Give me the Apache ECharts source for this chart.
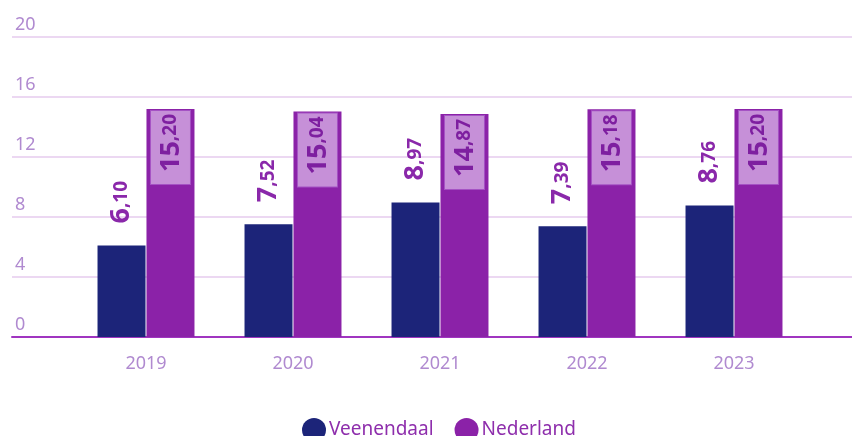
<!DOCTYPE html>
<html>
<head>
<meta charset="utf-8">
<script src="https://cdn.jsdelivr.net/npm/echarts@6/dist/echarts.min.js"></script>
<style>html,body{margin:0;padding:0;background:#fff}#c{width:852px;height:436px}</style>
</head>
<body>
<div id="c"></div>
<script>
const categories = ['2019', '2020', '2021', '2022', '2023'];
const veenendaal = [6.10, 7.52, 8.97, 7.39, 8.76];
const nederland = [15.20, 15.04, 14.87, 15.18, 15.20];
const yTicks = { min: 0, max: 20, interval: 4 };

const FONT = '"Noto Sans", "Open Sans", sans-serif';
const labelColor = '#b08ad0';
const valColor = '#8a28aa';

function splitFmt(p) {
  const parts = p.value.toFixed(2).split('.');
  return '{a|' + parts[0] + '}{b|,' + parts[1] + '}';
}

const chart = echarts.init(document.getElementById('c'), null, { renderer: 'canvas' });
chart.setOption({
  animation: false,
  textStyle: { fontFamily: FONT },
  grid: [
    { left: 12, right: 0, top: 37, bottom: 99 },
    { left: 72.5, right: 44.5, top: 37, bottom: 99 }
  ],
  xAxis: [
    {
      gridIndex: 0, type: 'value', min: 0, max: 1,
      axisLine: { show: true, onZero: false, lineStyle: { color: '#a035c0', width: 2 } },
      axisTick: { show: false }, axisLabel: { show: false }, splitLine: { show: false }
    },
    {
      gridIndex: 1, type: 'category', data: categories,
      axisLine: { show: false }, axisTick: { show: false },
      axisLabel: { fontSize: 18, color: labelColor, margin: 18, fontFamily: FONT }
    }
  ],
  yAxis: [
    {
      gridIndex: 0, type: 'value', min: yTicks.min, max: yTicks.max, interval: yTicks.interval,
      axisLine: { show: false }, axisTick: { show: false },
      axisLabel: {
        inside: true, margin: 3, align: 'left', verticalAlign: 'bottom',
        padding: [0, 0, 3, 0], fontSize: 18, color: labelColor, fontFamily: FONT
      },
      splitLine: { show: true, lineStyle: { color: '#ecd8f2', width: 2 } }
    },
    {
      gridIndex: 1, type: 'value', min: yTicks.min, max: yTicks.max, interval: yTicks.interval,
      show: false
    }
  ],
  legend: {
    left: 297, top: 413,
    icon: 'circle', itemWidth: 24, itemHeight: 24, itemGap: 21,
    textStyle: { fontSize: 19, color: '#8e2eac', fontFamily: FONT, padding: [0, 0, 0, -2] },
    data: ['Veenendaal', 'Nederland']
  },
  series: [
    {
      name: 'Veenendaal', type: 'bar', xAxisIndex: 1, yAxisIndex: 1,
      data: veenendaal, barWidth: 48, barGap: '2%',
      itemStyle: { color: '#1c2479' },
      label: {
        show: true, position: 'top', distance: 22, rotate: 90,
        align: 'left', verticalAlign: 'middle',
        formatter: splitFmt,
        rich: {
          a: { fontSize: 27, fontWeight: 'bold', color: valColor, fontFamily: FONT },
          b: { fontSize: 19, fontWeight: 'bold', color: valColor, fontFamily: FONT }
        }
      }
    },
    {
      name: 'Nederland', type: 'bar', xAxisIndex: 1, yAxisIndex: 1,
      data: nederland, barWidth: 48, barGap: '2%',
      itemStyle: { color: '#8b22a8' },
      label: {
        show: true, position: 'insideTop', distance: 2, rotate: 90,
        align: 'right', verticalAlign: 'middle',
        formatter: splitFmt,
        backgroundColor: '#c690d8', borderColor: '#a552c4', borderWidth: 1,
        padding: [3, 3, 2, 12],
        rich: {
          a: { fontSize: 27, fontWeight: 'bold', color: '#7e1fa0', fontFamily: FONT, lineHeight: 34 },
          b: { fontSize: 19, fontWeight: 'bold', color: '#7e1fa0', fontFamily: FONT, lineHeight: 34 }
        }
      }
    }
  ]
});
</script>
</body>
</html>
